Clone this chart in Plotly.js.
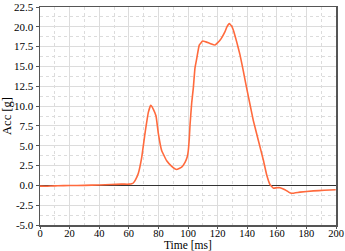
<!DOCTYPE html>
<html>
<head>
<meta charset="utf-8">
<script src="https://cdn.plot.ly/plotly-3.0.1.min.js"></script>
<style>html,body{margin:0;padding:0;background:#fff;}#chart{width:345px;height:251px;}</style>
</head>
<body>
<div id="chart"></div>
<script>
var time = [0, 4, 8, 12, 20, 30, 40, 48, 55, 60, 62, 63, 64.5, 66.4, 68.7, 70.9, 73.2, 74.8, 76.6, 78.4, 80, 82.2, 85.6, 89, 92.3, 95.7, 98, 99.5, 100.2, 100.9, 101.4, 102.5, 103.6, 104.7, 105.9, 107.6, 109.9, 112, 114.9, 118.2, 121.6, 125, 126.3, 127.9, 129.5, 130.6, 132.9, 135.1, 137.4, 139.6, 141.9, 144.1, 147.5, 150.9, 153.2, 155.4, 157.7, 160, 162.2, 165.5, 168, 170, 175.7, 184.7, 192, 199.8];
var acc = [-0.1, -0.12, -0.08, -0.05, -0.02, 0.0, 0.05, 0.1, 0.15, 0.15, 0.2, 0.3, 0.7, 1.5, 3.5, 6.5, 9.2, 10.1, 9.6, 8.75, 6.5, 4.4, 3.1, 2.4, 2.0, 2.3, 2.9, 3.6, 4.4, 6.0, 7.7, 10.4, 12.3, 14.8, 16.0, 17.7, 18.2, 18.1, 17.9, 17.7, 18.3, 19.4, 20.0, 20.4, 20.1, 19.6, 18.1, 16.5, 14.4, 12.3, 10.2, 8.2, 5.7, 3.2, 1.3, 0.1, -0.35, -0.3, -0.3, -0.55, -0.85, -1.0, -0.85, -0.7, -0.62, -0.55];

var xTickVals = [0, 20, 40, 60, 80, 100, 120, 140, 160, 180, 200];
var yTickVals = [-5, -2.5, 0, 2.5, 5, 7.5, 10, 12.5, 15, 17.5, 20, 22.5];
var yTickText = ['-5.0', '-2.5', '0.0', '2.5', '5.0', '7.5', '10.0', '12.5', '15.0', '17.5', '20.0', '22.5'];

var font = 'Liberation Serif, Times New Roman, serif';

Plotly.newPlot('chart', [{
  x: time, y: acc, type: 'scatter', mode: 'lines',
  line: {color: '#ff6a3d', width: 1.6, shape: 'spline', smoothing: 0.3},
  hoverinfo: 'skip'
}], {
  width: 345, height: 251,
  margin: {l: 40, r: 9, t: 7, b: 26},
  paper_bgcolor: '#fff', plot_bgcolor: '#fff',
  showlegend: false,
  font: {family: font, color: '#000', size: 11},
  xaxis: {
    range: [0, 200], tickvals: xTickVals, ticktext: xTickVals.map(String),
    showgrid: true, gridcolor: '#dcdcdc', gridwidth: 1,
    minor: {dtick: 10, showgrid: true, gridcolor: '#dcdcdc', griddash: 'dot', gridwidth: 1},
    showline: true, mirror: true, linecolor: '#555', linewidth: 1.5,
    ticks: 'outside', ticklen: 2, tickcolor: '#555',
    ticklabelstandoff: -4,
    zeroline: false,
    tickfont: {family: font, size: 10.5, color: '#000'}
  },
  yaxis: {
    range: [-5, 22.5], tickvals: yTickVals, ticktext: yTickText,
    showgrid: true, gridcolor: '#dcdcdc', gridwidth: 1,
    minor: {dtick: 1.25, showgrid: true, gridcolor: '#dcdcdc', griddash: 'dot', gridwidth: 1},
    showline: true, mirror: true, linecolor: '#555', linewidth: 1.5,
    ticks: 'outside', ticklen: 3, tickcolor: '#555',
    zeroline: true, zerolinecolor: '#333', zerolinewidth: 1.3,
    tickfont: {family: font, size: 11, color: '#000'},
    title: {text: 'Acc [g]', font: {family: font, size: 12.5, color: '#000'}, standoff: 4}
  },
  annotations: [{
    text: 'Time [ms]', xref: 'paper', yref: 'paper', x: 0.5, y: 0,
    xanchor: 'center', yanchor: 'middle', yshift: -19.5, showarrow: false,
    font: {family: font, size: 11.5, color: '#000'}
  }]
}, {staticPlot: true, displayModeBar: false});
</script>
</body>
</html>
